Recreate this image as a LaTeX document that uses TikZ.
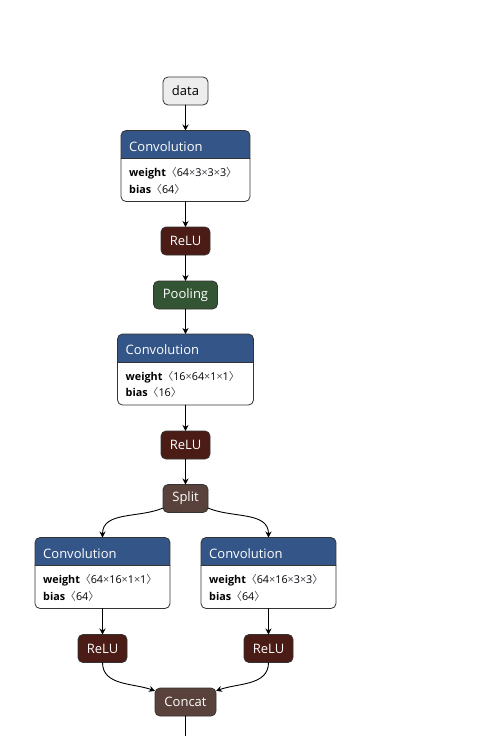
\documentclass[tikz,border=0pt]{standalone}
\usepackage{fontspec}
\setmainfont{Open Sans}
\newfontfamily\cjk{Noto Sans CJK SC}
\usetikzlibrary{arrows.meta}

\definecolor{convblue}{RGB}{51,85,136}
\definecolor{relucol}{RGB}{75,27,22}
\definecolor{poolcol}{RGB}{51,85,51}
\definecolor{tensorcol}{RGB}{89,66,59}
\definecolor{nodeline}{RGB}{51,51,51}
\definecolor{shapecol}{RGB}{70,70,85}

\newcommand\dimby{{\color{shapecol}×}}
\newcommand\shapeof[1]{{\cjk\color{shapecol}〈}#1{\cjk\color{shapecol}〉}}

\begin{document}
\begin{tikzpicture}[x=1pt, y=1pt, font=\fontsize{13}{15}\selectfont, line join=round, line cap=round, >={Stealth[length=6pt,width=6pt]},
		op/.style={draw=nodeline, line width=0.8pt, rounded corners=5pt, minimum height=28pt, inner sep=0pt, outer sep=0pt, text=white},
		convbox/.style={fill=white, rounded corners=5pt, minimum height=71pt, inner sep=0pt, outer sep=0pt},
		attr/.style={anchor=base west, inner sep=0pt, font=\fontsize{10.8}{12}\selectfont},
		edge/.style={->, line width=0.9pt}
	]
	
	\useasboundingbox (0,0) rectangle (485,-736);
	
	% operator boxes
	\node[op, fill=black!7, text=black, minimum width=45] (data) at (185.5,-91) {data};
	\foreach \n/\c/\w/\x/\y/\t in {relu1/relucol/49/185.5/241/ReLU, pool/poolcol/64/185.5/295/Pooling, relu2/relucol/49/185.5/445/ReLU, split/tensorcol/45/185.5/498.5/Split, relu3/relucol/49/102.5/648.5/ReLU, relu4/relucol/49/268.5/648.5/ReLU, concat/tensorcol/61/185.5/702/Concat}{
		\node[op, fill=\c, minimum width=\w] (\n) at (\x,-\y) {\t};
	}
	
	% convolution boxes
	\foreach \n/\x/\y/\w/\wt/\b in {conv1/185.5/130.5/129/{64\dimby3\dimby3\dimby3}/64, conv2/185.5/334/136/{16\dimby64\dimby1\dimby1}/16, conv3/102.5/537.5/135/{64\dimby16\dimby1\dimby1}/64, conv4/268.5/537.5/135/{64\dimby16\dimby3\dimby3}/64}{
		\node[convbox, minimum width=\w, anchor=north] (\n) at (\x,-\y) {};
		\begin{scope}
			\clip[rounded corners=5pt] (\n.north west) rectangle (\n.south east);
			\fill[convblue] (\n.north west) rectangle ++(\w,-28);
		\end{scope}
		\draw[nodeline, line width=0.8pt] (\n.north west) ++(0,-28) -- ++(\w,0);
		\draw[nodeline, line width=0.8pt, rounded corners=5pt] (\n.north west) rectangle (\n.south east);
		\node[anchor=base west, inner sep=0pt, text=white] (\n-t) at (\x-\w/2+8,-\y-20.5) {Convolution};
		\node[attr] (\n-w) at (\x-\w/2+8,-\y-46) {\textbf{weight}\shapeof{\wt}};
		\node[attr] (\n-b) at (\x-\w/2+8,-\y-62.5) {\textbf{bias}\shapeof{\b}};
	}
	
	\coordinate (out) at (185.5,-736);
	
	\draw[edge] 
		(data) edge (conv1)
		(conv1) edge (relu1)
		(relu1) edge (pool)
		(pool) edge (conv2)
		(conv2) edge (relu2)
		(relu2) edge (split)
		(conv3) edge (relu3)
		(conv4) edge (relu4)
		(split) edge[out=203, in=90] (conv3)
		(split) edge[out=-23, in=90] (conv4)
		(relu3) edge[out=-90, in=160] (concat)
		(relu4) edge[out=-90, in=20] (concat)
	;
	\draw[line width=0.9pt] (concat) -- (out);
\end{tikzpicture}
\end{document}
